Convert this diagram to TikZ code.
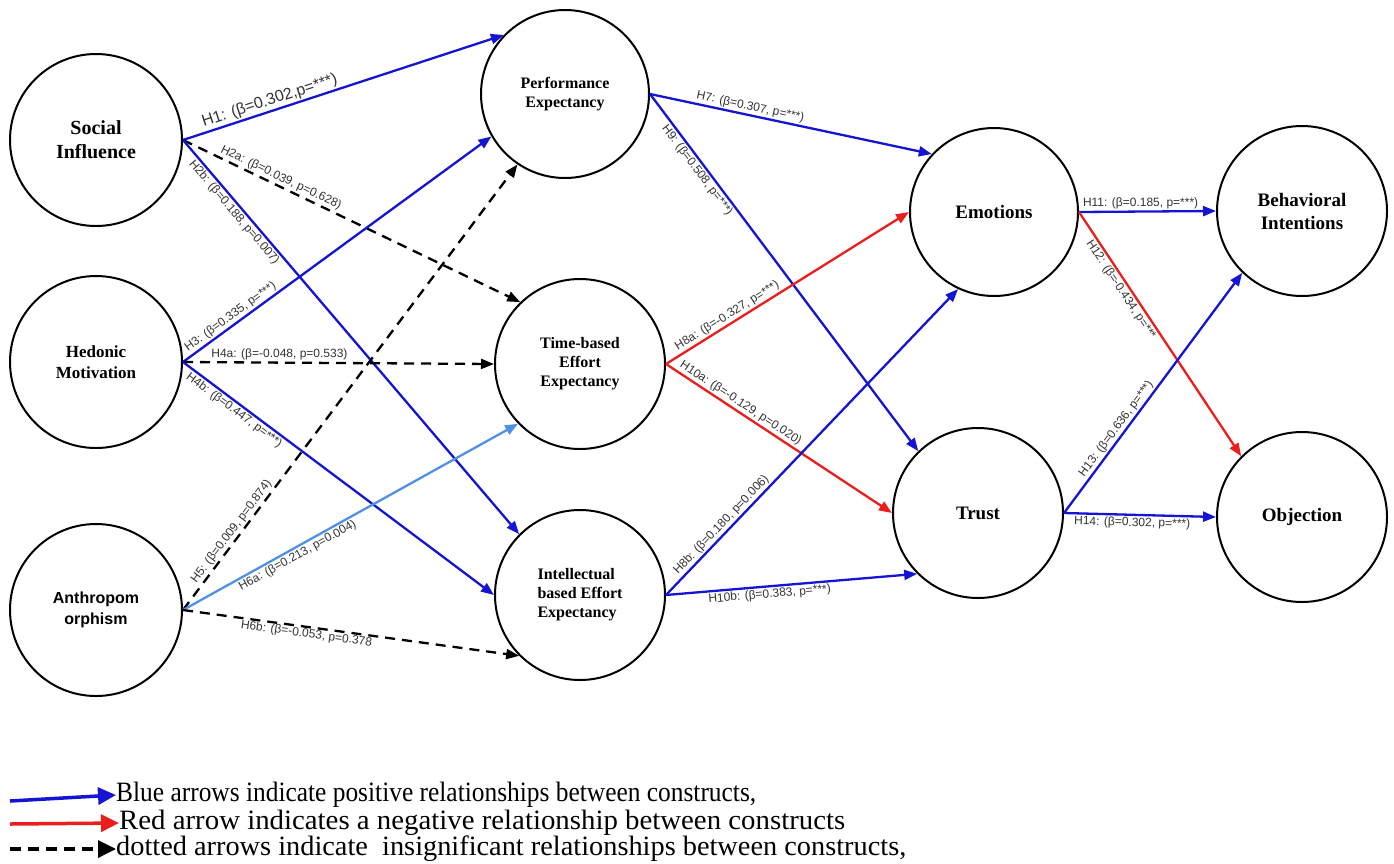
\documentclass[tikz,border=0pt]{standalone}
\usepackage{fontspec}
\setmainfont{Liberation Serif}
\newfontfamily\labfont{Liberation Sans}
\newfontfamily\nodefont{Liberation Serif}
\usepackage{graphicx}
\usetikzlibrary{arrows.meta}
\definecolor{pblue}{RGB}{20,20,210}
\definecolor{lblue}{RGB}{80,145,230}
\definecolor{nred}{RGB}{235,30,30}
\begin{document}
\begin{tikzpicture}[x=1pt,y=-1pt,
  construct/.style={circle,draw=black,line width=2pt,inner sep=0pt,minimum size=170pt,align=center,
    font=\nodefont\bfseries\fontsize{16}{19}\selectfont},
  tipA/.style={-{Triangle[length=13pt,width=10pt]}},
  posarrow/.style={draw=pblue,line width=2.3pt,tipA},
  lposarrow/.style={draw=lblue,line width=2.3pt,tipA},
  negarrow/.style={draw=nred,line width=2.3pt,tipA},
  insig/.style={draw=black,line width=2.3pt,dash pattern=on 10pt off 7pt,tipA},
  lab/.style={font=\labfont\fontsize{12}{14}\selectfont,text=black!80,inner sep=1.5pt,sloped},
  legtip/.style={-{Triangle[length=18pt,width=17pt]}},
  legtext/.style={anchor=west,inner sep=0pt,font=\nodefont\fontsize{28}{28}\selectfont}
]
\useasboundingbox[fill=white] (0,0) rectangle (1394,863);

% constructs
\node[construct,minimum size=172pt,font=\nodefont\bfseries\fontsize{20}{24}\selectfont] (si) at (96,140) {Social\\Influence};
\node[construct,minimum size=172pt,font=\nodefont\bfseries\fontsize{17}{21}\selectfont] (hm) at (96,362) {Hedonic\\Motivation};
\node[construct,minimum size=172pt,font=\labfont\bfseries\fontsize{16}{21}\selectfont] (an) at (96,610) {Anthropom\\orphism};
\node[construct,minimum size=168pt] (pe) at (565,94) {Performance\\Expectancy};
\node[construct] (te) at (580,364) {Time-based\\Effort\\Expectancy};
\node[construct,align=left] (ie) at (580,595) {Intellectual\\based Effort\\Expectancy};
\node[construct,minimum size=168pt,font=\nodefont\bfseries\fontsize{19}{23}\selectfont] (em) at (994,212) {Emotions};
\node[construct,font=\nodefont\bfseries\fontsize{19}{23}\selectfont] (tr) at (978,513) {Trust};
\node[construct,font=\nodefont\bfseries\fontsize{19}{23}\selectfont] (bi) at (1302,211) {Behavioral\\Intentions};
\node[construct,font=\nodefont\bfseries\fontsize{19}{23}\selectfont] (ob) at (1302,517) {Objection};

% left column to middle column
\draw[posarrow] (si.east) -- (pe.136)
  node[lab,pos=0.28,above,font=\labfont\fontsize{16}{18}\selectfont] {H1: (β=0.302,p=***)};
\draw[insig] (si.east) -- (te.134)
  node[lab,pos=0.28,above] {H2a: (β=0.039, p=0.628)};
\draw[posarrow] (si.east) -- (ie.135)
  node[lab,pos=0.17,below] {H2b: (β=0.188, p=0.007)};
\draw[posarrow] (hm.east) -- (pe.210)
  node[lab,pos=0.17,above] {H3: (β=0.335, p=***)};
\draw[insig] (hm.east) -- (te.west)
  node[lab,pos=0.31,above] {H4a: (β=-0.048, p=0.533)};
\draw[posarrow] (hm.east) -- (ie.west)
  node[lab,pos=0.18,below] {H4b: (β=0.447, p=***)};
\draw[insig] (an.east) -- (pe.236)
  node[lab,pos=0.165,above] {H5: (β=0.009, p=0.874)};
\draw[lposarrow] (an.east) -- (te.224)
  node[lab,pos=0.33,below] {H6a: (β=0.213, p=0.004)};
\draw[insig] (an.east) -- (ie.225)
  node[lab,pos=0.37,below,inner sep=0.5pt] {H6b: (β=-0.053, p=0.378};

% middle column to right
\draw[posarrow] (pe.east) -- (em.137)
  node[lab,pos=0.35,above] {H7: (β=0.307, p=***)};
\draw[posarrow] (pe.east) -- (tr.134)
  node[lab,pos=0.2,below] {H9: (β=0.508, p=***)};
\draw[negarrow] (te.east) -- (em.west)
  node[lab,pos=0.27,above] {H8a: (β=-0.327, p=***)};
\draw[negarrow] (te.east) -- (tr.west)
  node[lab,pos=0.31,above] {H10a: (β=-0.129, p=0.020)};
\draw[posarrow] (ie.east) -- (em.245)
  node[lab,pos=0.21,above] {H8b: (β=0.180, p=0.006)};
\draw[posarrow] (ie.east) -- (tr.225)
  node[lab,pos=0.41,below] {H10b: (β=0.383, p=***)};

% right part
\draw[posarrow] (em.east) -- (bi.west)
  node[lab,pos=0.45,above] {H11: (β=0.185, p=***)};
\draw[negarrow] (em.east) -- (ob.135)
  node[lab,pos=0.3,below] {H12: (β=-0.434, p=***};
\draw[posarrow] (tr.east) -- (bi.226)
  node[lab,pos=0.33,above] {H13: (β=0.636, p=***)};
\draw[posarrow] (tr.east) -- (ob.west)
  node[lab,pos=0.45,below] {H14: (β=0.302, p=***)};

% legend
\node[legtext] (lt1) at (116,795) {\resizebox{640pt}{\height}{Blue arrows indicate positive relationships between constructs,}};
\node[legtext] (lt2) at (119,823) {\resizebox{726pt}{\height}{Red arrow indicates a negative relationship between constructs}};
\node[legtext] (lt3) at (116,849) {\resizebox{790pt}{\height}{dotted arrows indicate\ \ insignificant relationships between constructs,}};
\coordinate (lb1) at (10,801);
\coordinate (lb2) at (10,824);
\coordinate (lb3) at (10,849);
\draw[draw=pblue,line width=3.5pt,legtip] (lb1) -- (lt1.west);
\draw[draw=nred,line width=3.5pt,legtip] (lb2) -- (lt2.west);
\draw[draw=black,line width=3.5pt,dash pattern=on 11pt off 7pt,legtip] (lb3) -- (lt3.west);
\end{tikzpicture}
\end{document}
